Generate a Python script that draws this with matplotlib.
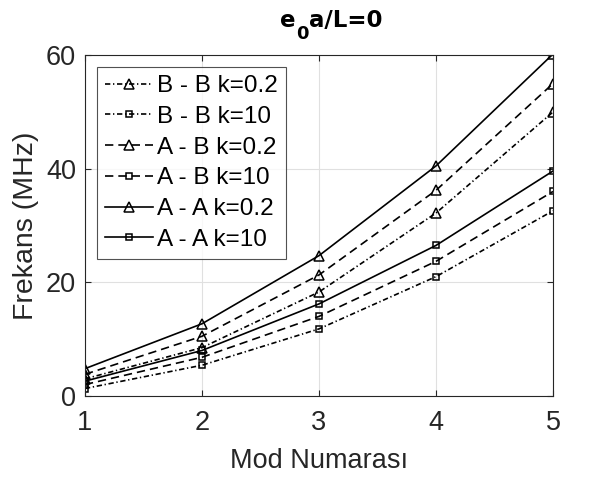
import numpy as np
import matplotlib.pyplot as plt

plt.rcParams['font.family'] = ['Liberation Sans', 'DejaVu Sans']

mod = [1, 2, 3, 4, 5]
bb_02 = [3.0, 8.5, 18.3, 32.2, 50.0]
bb_10 = [1.3, 5.4, 11.8, 21.0, 32.6]
ab_02 = [3.8, 10.5, 21.3, 36.2, 55.0]
ab_10 = [2.0, 6.8, 14.0, 23.7, 36.0]
aa_02 = [4.8, 12.7, 24.7, 40.5, 60.2]
aa_10 = [2.6, 8.0, 16.2, 26.5, 39.6]

series = [
    ('B - B k=0.2', bb_02, '-.', '^'),
    ('B - B k=10', bb_10, '-.', 's'),
    ('A - B k=0.2', ab_02, '--', '^'),
    ('A - B k=10', ab_10, '--', 's'),
    ('A - A k=0.2', aa_02, '-', '^'),
    ('A - A k=10', aa_10, '-', 's'),
]
# matlab-like dash patterns
dash_map = {'--': (0, (5, 3)), '-.': (0, (3.2, 1.6, 0.8, 1.6)), '-': '-'}

W, H = 594, 484
fig = plt.figure(figsize=(W / 100, H / 100), dpi=100)
ax = fig.add_axes([0.143, 0.182, 0.788, 0.704])

for lab, v, ls, mk in series:
    ms = 7.5 if mk == '^' else 5
    ax.plot(mod, v, linestyle=dash_map[ls], marker=mk, color='black', lw=1.2,
            markersize=ms, markerfacecolor='none', markeredgewidth=1.1, label=lab)

ax.set_xlim(1, 5)
ax.set_ylim(0, 60)
ax.set_xticks(mod)
ax.set_yticks([0, 20, 40, 60])
ax.grid(True, color='#e0e0e0', lw=0.8)
ax.set_axisbelow(True)
ax.tick_params(direction='in', labelsize=19.5, colors='#262626', length=4, top=True, right=True, labeltop=False, labelright=False)
ax.tick_params(axis='x', pad=10)
ax.tick_params(axis='y', pad=6.5)
for s in ax.spines.values():
    s.set_color('#262626')
    s.set_linewidth(0.8)

ax.set_xlabel('Mod Numarası', fontsize=19.5, color='#262626', labelpad=9)
ax.set_ylabel('Frekans (MHz)', fontsize=20.5, color='#262626', labelpad=5)

leg = ax.legend(loc='upper left', fontsize=17.5, frameon=True, fancybox=False,
                edgecolor='#262626', handlelength=2.0, handletextpad=0.15,
                borderaxespad=0.5, labelspacing=0.36, borderpad=0.32)
leg.get_frame().set_linewidth(0.8)

# title e_0a/L=0 built from pieces so the subscript sits like the original
title_parts = [('e', 0, 16.5), ('0', 12, 13), ('a/L=0', 0, 16.5)]
r = fig.canvas.get_renderer()
x = 280
for s, dy, fs in title_parts:
    t = fig.text(x / W, (H - 27 - dy) / H, s, fontsize=fs, fontweight='bold',
                 family='DejaVu Sans', va='baseline', ha='left')
    x = t.get_window_extent(r).x1 + 0.5

fig.savefig('out.png', dpi=100)
